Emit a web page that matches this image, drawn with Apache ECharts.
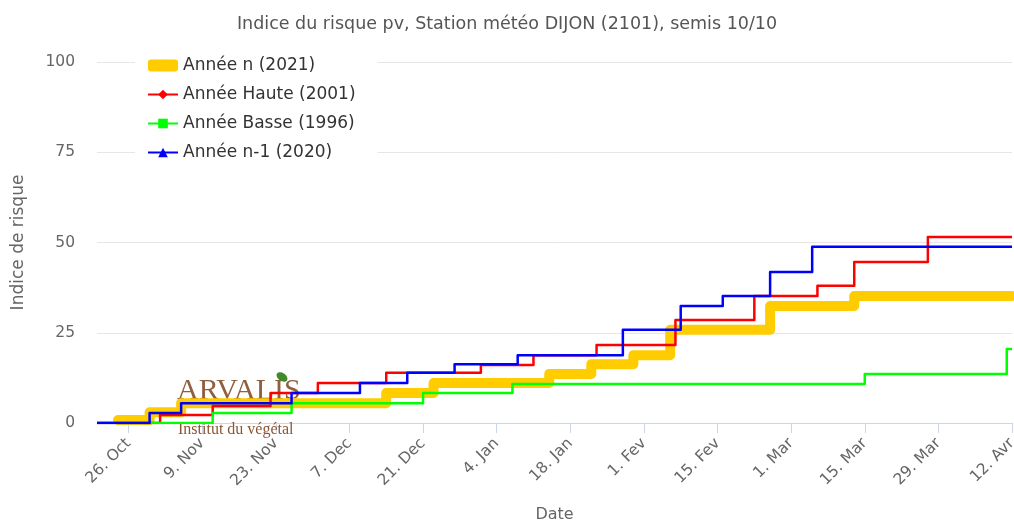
<!DOCTYPE html>
<html>
<head>
<meta charset="utf-8">
<title>Indice du risque pv</title>
<script src="https://cdn.jsdelivr.net/npm/echarts@6/dist/echarts.min.js"></script>
<style>
  html, body { margin: 0; padding: 0; background: #fff; }
  #chart { width: 1014px; height: 523px; }
</style>
</head>
<body>
<div id="chart"></div>
<script>
// axe des dates
const axisStart = '2020-10-20';
const axisEnd = '2021-04-12';
const tickDates = ['2020-10-26', '2020-11-09', '2020-11-23', '2020-12-07', '2020-12-21', '2021-01-04',
    '2021-01-18', '2021-02-01', '2021-02-15', '2021-03-01', '2021-03-15', '2021-03-29', '2021-04-12'];
const tickLabels = ['26. Oct', '9. Nov', '23. Nov', '7. Dec', '21. Dec', '4. Jan', '18. Jan',
    '1. Fev', '15. Fev', '1. Mar', '15. Mar', '29. Mar', '12. Avr'];

// Année n (2021) : dates de changement et valeurs
const anneeNDates = ['2020-10-24', '2020-10-30', '2020-11-05', '2020-12-14', '2020-12-23',
    '2021-01-14', '2021-01-22', '2021-01-30', '2021-02-06', '2021-02-25', '2021-03-13', '2021-04-12'];
const anneeNValues = [0.8, 3.0, 5.5, 8.3, 11.1, 13.6, 16.3, 18.8, 25.8, 32.4, 35.2, 35.2];

// Année Haute (2001)
const hauteDates = ['2020-10-20', '2020-11-01', '2020-11-11', '2020-11-22', '2020-12-01', '2020-12-14',
    '2021-01-01', '2021-01-11', '2021-01-23', '2021-02-07', '2021-02-22', '2021-03-06', '2021-03-13',
    '2021-03-27', '2021-04-12'];
const hauteValues = [0, 2.2, 4.7, 8.3, 11.1, 13.9, 16.1, 18.8, 21.6, 28.5, 35.2, 38.0, 44.6, 51.5, 51.5];

// Année Basse (1996)
const basseDates = ['2020-10-20', '2020-11-11', '2020-11-26', '2020-12-21', '2021-01-07', '2021-03-15',
    '2021-04-11', '2021-04-12'];
const basseValues = [0, 2.8, 5.5, 8.3, 10.8, 13.6, 20.5, 20.5];

// Année n-1 (2020)
const precDates = ['2020-10-20', '2020-10-30', '2020-11-05', '2020-11-26', '2020-12-09', '2020-12-18',
    '2020-12-27', '2021-01-08', '2021-01-28', '2021-02-08', '2021-02-16', '2021-02-25', '2021-03-05',
    '2021-04-12'];
const precValues = [0, 2.8, 5.5, 8.3, 11.1, 13.9, 16.3, 18.8, 25.8, 32.4, 35.2, 41.8, 48.8, 48.8];

// nb de jours depuis le 26 oct (1er tick)
const ref = Date.parse(tickDates[0] + 'T00:00:00Z');
function toDay(d) {
    return Math.round((Date.parse(d + 'T00:00:00Z') - ref) / 86400000);
}
function pairs(dates, values) {
    return dates.map((d, i) => [toDay(d), values[i]]);
}
const tickDays = tickDates.map(toDay);

const chart = echarts.init(document.getElementById('chart'));

const font = 'DejaVu Sans';

const option = {
    animation: false,
    textStyle: {fontFamily: font},
    title: {
        text: 'Indice du risque pv, Station météo DIJON (2101), semis 10/10',
        left: 'center',
        top: 10,
        textStyle: {fontSize: 17.5, fontWeight: 'normal', color: '#555', fontFamily: font}
    },
    legend: {
        orient: 'vertical',
        left: 135,
        top: 53,
        backgroundColor: '#fff',
        padding: [4, 22, 6, 12],
        itemWidth: 30,
        itemHeight: 12,
        itemGap: 12,
        textStyle: {fontSize: 17, color: '#333', fontFamily: font},
        data: [
            {name: 'Année n (2021)', icon: 'roundRect'},
            'Année Haute (2001)',
            'Année Basse (1996)',
            'Année n-1 (2020)'
        ]
    },
    grid: {left: 97, right: 2, top: 62, bottom: 100, outerBoundsMode: 'none'},
    graphic: [
        {
            type: 'text', left: 177, top: 376, z: 1,
            style: {text: 'ARVALIS', fill: '#8a5634', font: '30px "Liberation Serif"', opacity: 0.95}
        },
        {
            type: 'text', left: 178, top: 422, z: 1,
            style: {text: 'Institut du végétal', fill: '#8a5634', font: '16px "Liberation Serif"'}
        },
        {
            type: 'ellipse', z: 1, rotation: -0.6,
            shape: {cx: 0, cy: 0, rx: 6, ry: 4}, x: 282, y: 377,
            style: {fill: '#3f8a2c'}
        }
    ],
    xAxis: {
        type: 'value',
        min: toDay(axisStart),
        max: toDay(axisEnd),
        name: 'Date',
        nameLocation: 'middle',
        nameGap: 84,
        nameTextStyle: {fontSize: 16, color: '#666', fontFamily: font},
        axisLine: {lineStyle: {color: '#ccd6eb', width: 1}},
        axisTick: {customValues: tickDays, length: 10, lineStyle: {color: '#ccd6eb'}},
        axisLabel: {
            customValues: tickDays,
            rotate: 45,
            margin: 18,
            fontSize: 15.5,
            color: '#666',
            formatter: v => tickLabels[tickDays.indexOf(v)]
        },
        splitLine: {show: false}
    },
    yAxis: {
        type: 'value',
        min: 0,
        max: 100,
        interval: 25,
        name: 'Indice de risque',
        nameLocation: 'middle',
        nameGap: 70,
        nameTextStyle: {fontSize: 17, color: '#666', fontFamily: font},
        axisLine: {show: false},
        axisTick: {show: false},
        axisLabel: {fontSize: 15.5, color: '#666', margin: 22},
        splitLine: {lineStyle: {color: '#e6e6e6'}}
    },
    series: [
        {
            name: 'Année n (2021)',
            type: 'line',
            step: 'end',
            symbol: 'none',
            data: pairs(anneeNDates, anneeNValues),
            color: '#ffcc00',
            lineStyle: {width: 10, color: '#ffcc00', cap: 'round', join: 'round'}
        },
        {
            name: 'Année Haute (2001)',
            type: 'line',
            step: 'end',
            symbol: 'diamond',
            symbolSize: 9,
            showSymbol: false,
            data: pairs(hauteDates, hauteValues),
            color: '#ff0000',
            lineStyle: {width: 2.5, color: '#ff0000', join: 'round'}
        },
        {
            name: 'Année Basse (1996)',
            type: 'line',
            step: 'end',
            symbol: 'rect',
            symbolSize: 9,
            showSymbol: false,
            data: pairs(basseDates, basseValues),
            color: '#00ff00',
            lineStyle: {width: 2.5, color: '#00ff00', join: 'round'}
        },
        {
            name: 'Année n-1 (2020)',
            type: 'line',
            step: 'end',
            symbol: 'triangle',
            symbolSize: 9,
            showSymbol: false,
            data: pairs(precDates, precValues),
            color: '#0000ff',
            lineStyle: {width: 2.5, color: '#0000ff', join: 'round'}
        }
    ]
};

chart.setOption(option);
</script>
</body>
</html>
